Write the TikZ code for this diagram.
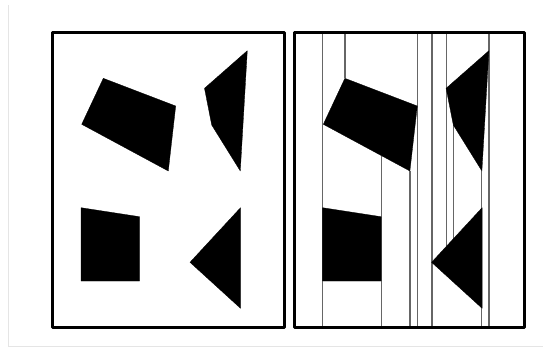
\documentclass[tikz,border=0pt]{standalone}
\begin{document}
\begin{tikzpicture}[x=1pt, y=-1pt,
    marco/.style={line width=2.5pt, line join=round},
    corte/.style={black!60, line width=1.2pt},
    pieza/.style={fill=black, draw=black, line width=0.3pt, line join=round}]
    \useasboundingbox (0,0) rectangle (543,349);

    % Sombra tenue alrededor de la figura
    \draw[black!10, line width=0.8pt] (8.5,5) -- (8.5,346.5) -- (543,346.5);

    % Lineas verticales de la descomposicion (panel derecho)
    \draw[corte] (322.6,32.7) -- (322.6,327.5);
    \draw[corte] (344.9,32.7) -- (344.9,78.3);
    \draw[corte] (381.3,155.7) -- (381.3,327.5);
    \draw[corte] (409.9,171) -- (409.9,327.5);
    \draw[corte] (417.5,32.7) -- (417.5,327.5);
    \draw[corte] (432,32.7) -- (432,327.5);
    \draw[corte] (446.3,32.7) -- (446.3,246.3);
    \draw[corte] (453.1,125) -- (453.1,238.8);
    \draw[corte] (481.8,171) -- (481.8,327.5);
    \draw[corte] (488.9,32.7) -- (488.9,327.5);

    % Piezas negras (iguales en los dos paneles)
    \foreach \dx in {0,241.6} {
        \begin{scope}[xshift=\dx]
            \filldraw[pieza] (103.3,78.3) -- (175.7,106) -- (168.3,171) -- (81.7,124.3) -- cycle;
            \filldraw[pieza] (247.3,50.7) -- (240.3,171) -- (211.7,125) -- (204.5,88.3) -- cycle;
            \filldraw[pieza] (81,207.7) -- (139.5,216.7) -- (139.5,281) -- (81,281) -- cycle;
            \filldraw[pieza] (240.5,207.7) -- (240.5,308.3) -- (190,262.3) -- cycle;
        \end{scope}
    }

    % Marcos
    \draw[marco] (52.7,32.7) rectangle (284.3,327.5);
    \draw[marco] (294.3,32.7) rectangle (524.3,327.5);
\end{tikzpicture}
\end{document}
